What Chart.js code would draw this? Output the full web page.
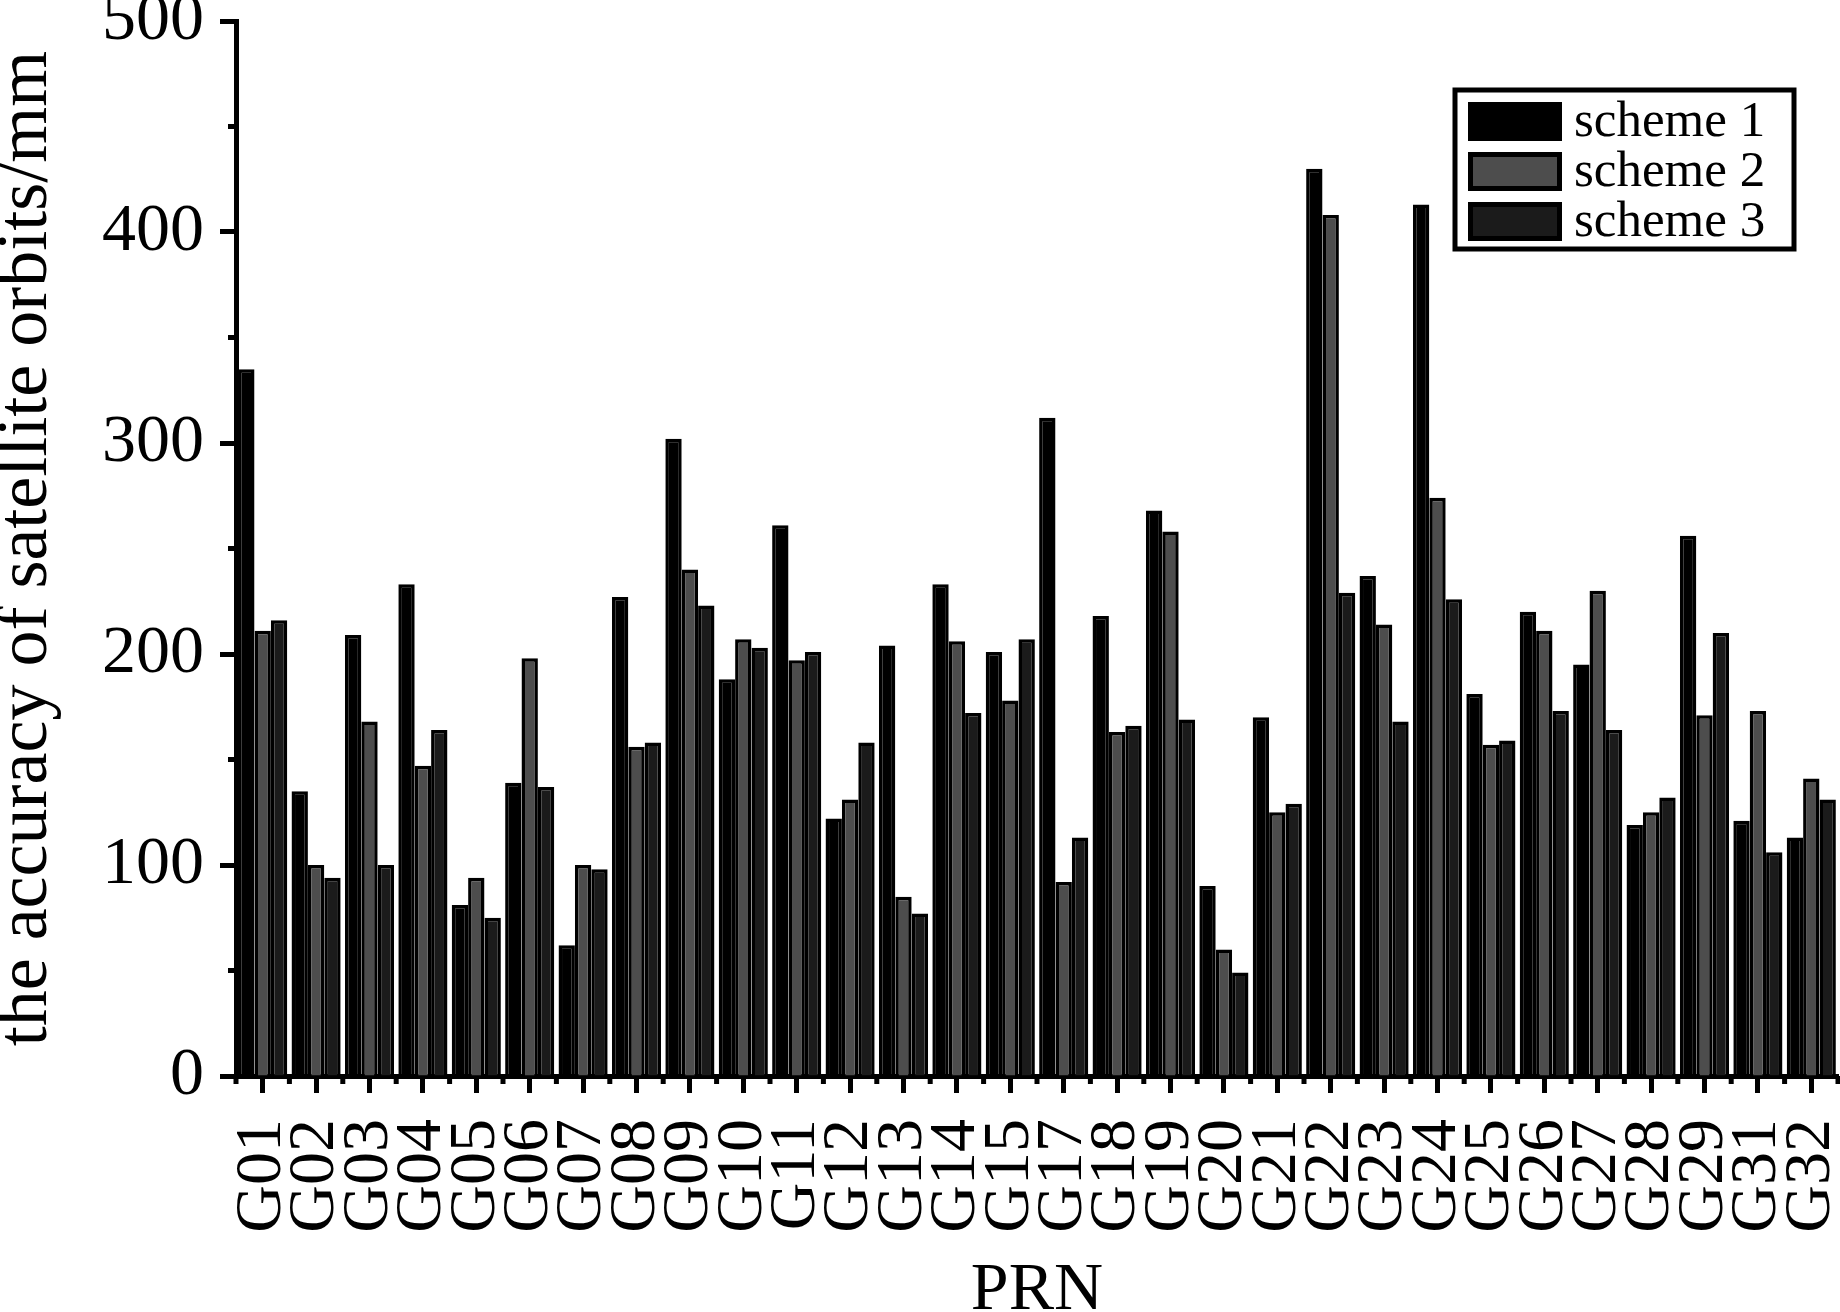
<!DOCTYPE html>
<html>
<head>
<meta charset="utf-8">
<script src="https://cdn.jsdelivr.net/npm/chart.js@4.4.0/dist/chart.umd.min.js"></script>
<style>
  html, body { margin: 0; padding: 0; background: #fff; }
  #wrap { width: 1840px; height: 1312px; }
</style>
</head>
<body>
<div id="wrap"><canvas id="orbitChart" width="1840" height="1312"></canvas></div>
<script>
// PRN list (no G16, G30 in the figure)
const prnLabels = ['G01', 'G02', 'G03', 'G04', 'G05', 'G06', 'G07', 'G08', 'G09', 'G10',
    'G11', 'G12', 'G13', 'G14', 'G15', 'G17', 'G18', 'G19', 'G20', 'G21',
    'G22', 'G23', 'G24', 'G25', 'G26', 'G27', 'G28', 'G29', 'G31', 'G32'];

// orbit accuracy in mm
const scheme1 = [335, 135, 209, 233, 81, 139, 62, 227, 302, 188,
    261, 122, 204, 233, 201, 312, 218, 268, 90, 170,
    430, 237, 413, 181, 220, 195, 119, 256, 121, 113];
const scheme2 = [211, 100, 168, 147, 94, 198, 100, 156, 240, 207,
    197, 131, 85, 206, 178, 92, 163, 258, 60, 125,
    408, 214, 274, 157, 211, 230, 125, 171, 173, 141];
const scheme3 = [216, 94, 100, 164, 75, 137, 98, 158, 223, 203,
    201, 158, 77, 172, 207, 113, 166, 169, 49, 129,
    229, 168, 226, 159, 173, 164, 132, 210, 106, 131];

const seriesNames = ['scheme 1', 'scheme 2', 'scheme 3'];
const seriesColors = ['#000000', '#4d4d4d', '#1b1b1b'];
const minorY = [50, 150, 250, 350, 450];

const serif = '"Liberation Serif", "Times New Roman", serif';

// short ticks: between the PRN groups and at the 50s on the y axis
const minorTicks = {
    id: 'minorTicks',
    afterDraw(chart) {
        const { ctx, chartArea } = chart;
        const x = chart.scales.x;
        const y = chart.scales.y;
        const half = (x.getPixelForValue(1) - x.getPixelForValue(0)) / 2;
        ctx.save();
        ctx.strokeStyle = '#000';
        ctx.lineWidth = 5;
        ctx.beginPath();
        for (let i = 0; i <= prnLabels.length; i++) {
            const px = x.getPixelForValue(i) - half;
            ctx.moveTo(px, chartArea.bottom);
            ctx.lineTo(px, chartArea.bottom + 8);
        }
        minorY.forEach(v => {
            const py = y.getPixelForValue(v);
            ctx.moveTo(chartArea.left, py);
            ctx.lineTo(chartArea.left - 8, py);
        });
        ctx.stroke();
        ctx.restore();
    }
};

// boxed legend in the upper right corner of the plot
const boxLegend = {
    id: 'boxLegend',
    afterDraw(chart) {
        const { ctx, chartArea } = chart;
        const left = chartArea.right - 383;
        const top = chartArea.top + 69;
        ctx.save();
        ctx.fillStyle = '#fff';
        ctx.fillRect(left, top, 339, 159);
        ctx.strokeStyle = '#000';
        ctx.lineWidth = 5;
        ctx.strokeRect(left, top, 339, 159);

        ctx.font = '51px ' + serif;
        ctx.textBaseline = 'middle';
        chart.data.datasets.forEach((ds, i) => {
            const sy = top + 12 + i * 50;
            ctx.fillStyle = ds.backgroundColor;
            ctx.fillRect(left + 13, sy, 94, 39);
            ctx.lineWidth = 5;
            ctx.strokeStyle = '#000';
            ctx.strokeRect(left + 15.5, sy + 2.5, 89, 34);
            ctx.fillStyle = '#000';
            ctx.fillText(ds.label, left + 119, sy + 21);
        });
        ctx.restore();
    }
};

const ctx = document.getElementById('orbitChart').getContext('2d');
const orbitChart = new Chart(ctx, {
    type: 'bar',
    data: {
        labels: prnLabels,
        datasets: [scheme1, scheme2, scheme3].map((vals, i) => ({
            label: seriesNames[i],
            data: vals,
            backgroundColor: seriesColors[i],
            borderColor: '#000',
            borderWidth: 3.5,
            categoryPercentage: 0.92,
            barPercentage: 1.0
        }))
    },
    options: {
        responsive: false,
        animation: false,
        devicePixelRatio: 1,
        layout: { padding: { top: 21, right: 2, left: 0, bottom: 0 } },
        plugins: {
            legend: { display: false },
            tooltip: { enabled: false }
        },
        scales: {
            x: {
                grid: { drawOnChartArea: false, offset: false, tickLength: 17, tickWidth: 5, tickColor: '#000' },
                border: { color: '#000', width: 5 },
                ticks: {
                    color: '#000',
                    font: { family: serif, size: 66 },
                    maxRotation: 90,
                    minRotation: 90,
                    autoSkip: false,
                    padding: 26
                },
                title: {
                    display: true,
                    text: 'PRN',
                    color: '#000',
                    font: { family: serif, size: 68, lineHeight: 0.6 },
                    padding: 0
                },
                afterFit(scale) {
                    scale.height = 236;
                    scale.paddingLeft = 0;
                    scale.paddingRight = 0;
                }
            },
            y: {
                min: 0,
                max: 500,
                ticks: {
                    stepSize: 100,
                    color: '#000',
                    font: { family: serif, size: 68 },
                    padding: 16
                },
                grid: { drawOnChartArea: false, tickLength: 16, tickWidth: 5, tickColor: '#000' },
                border: { color: '#000', width: 5 },
                title: {
                    display: true,
                    text: 'the accuracy of satellite orbits/mm',
                    color: '#000',
                    font: { family: serif, size: 72, lineHeight: 0.76 },
                    padding: 0
                },
                afterFit(scale) {
                    scale.width = 236;
                    scale.paddingTop = 0;
                    scale.paddingBottom = 0;
                }
            }
        }
    },
    plugins: [minorTicks, boxLegend]
});
</script>
</body>
</html>
